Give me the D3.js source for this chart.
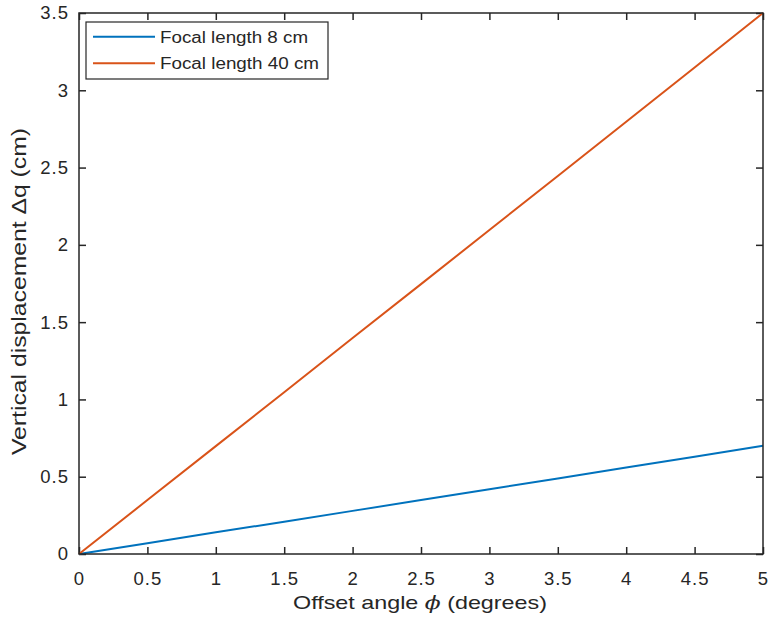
<!DOCTYPE html>
<html><head><meta charset="utf-8">
<script src="https://cdn.jsdelivr.net/npm/d3@7"></script>
<style>body{margin:0;background:#fff}text{font-family:"Liberation Sans",Arial,sans-serif;fill:#262626}</style>
</head><body>
<svg id="c" width="771" height="625"></svg>
<script>
const angles = [0,0.5,1,1.5,2,2.5,3,3.5,4,4.5,5];
const focal8 = [0,0.070,0.140,0.209,0.279,0.349,0.419,0.489,0.559,0.629,0.700];
const focal40 = [0,0.349,0.698,1.047,1.397,1.746,2.096,2.446,2.797,3.148,3.500];
const seriesNames = ["Focal length 8 cm","Focal length 40 cm"];
const seriesColors = ["#0072BD","#D95319"];
const xTicks = [0,0.5,1,1.5,2,2.5,3,3.5,4,4.5,5];
const yTicks = [0,0.5,1,1.5,2,2.5,3,3.5];

const svg = d3.select("#c");
const L=79,R=763,T=13,B=554;
const x = d3.scaleLinear().domain([0,5]).range([L,R]);
const y = d3.scaleLinear().domain([0,3.5]).range([B,T]);
const axCol="#262626";

const fmt = d=>String(d);
const gx = svg.append("g").attr("transform",`translate(0,${B})`)
  .call(d3.axisBottom(x).tickValues(xTicks).tickFormat(fmt).tickSizeInner(-7).tickSizeOuter(0).tickPadding(18));
const gxt = svg.append("g").attr("transform",`translate(0,${T})`)
  .call(d3.axisTop(x).tickValues(xTicks).tickFormat("").tickSizeInner(-7).tickSizeOuter(0));
const gy = svg.append("g").attr("transform",`translate(${L},0)`)
  .call(d3.axisLeft(y).tickValues(yTicks).tickFormat(fmt).tickSizeInner(-7).tickSizeOuter(0).tickPadding(10));
const gyr = svg.append("g").attr("transform",`translate(${R},0)`)
  .call(d3.axisRight(y).tickValues(yTicks).tickFormat("").tickSizeInner(-7).tickSizeOuter(0));
[gx,gxt,gy,gyr].forEach(g=>{
  g.select(".domain").remove();
  g.attr("font-size",null).attr("font-family",null);
  g.selectAll("line").attr("stroke",axCol).attr("stroke-width",1.5);
  g.selectAll("text").attr("font-size",18.5).attr("fill",axCol).attr("letter-spacing",1);
});

const data=[focal8,focal40];
const line = d3.line().x((d,i)=>x(angles[i])).y(d=>y(d));
data.forEach((s,k)=>{
  svg.append("path").datum(s).attr("d",line).attr("fill","none")
    .attr("stroke",seriesColors[k]).attr("stroke-width",2);
});

svg.append("rect").attr("x",L).attr("y",T).attr("width",R-L).attr("height",B-T)
  .attr("fill","none").attr("stroke",axCol).attr("stroke-width",1.5);

// axis labels
const xl = svg.append("text").attr("x",(293+547)/2).attr("y",609).attr("text-anchor","middle")
  .attr("font-size",19).attr("textLength",254).attr("lengthAdjust","spacingAndGlyphs");
xl.append("tspan").text("Offset angle ");
xl.append("tspan").attr("font-style","italic").attr("font-family","'DejaVu Serif',serif").text("ϕ");
xl.append("tspan").text(" (degrees)");
svg.append("text").attr("transform",`translate(26,${(128+455)/2}) rotate(-90)`).attr("text-anchor","middle")
  .attr("font-size",20).attr("textLength",327).attr("lengthAdjust","spacingAndGlyphs")
  .text("Vertical displacement Δq (cm)");

// legend
const lg = svg.append("g");
lg.append("rect").attr("x",86).attr("y",22).attr("width",242).attr("height",57)
  .attr("fill","#fff").attr("stroke",axCol).attr("stroke-width",1.2);
const legW=[148,159];
seriesNames.forEach((n,k)=>{
  const yy = 36.7 + k*26.5;
  lg.append("line").attr("x1",93).attr("x2",155).attr("y1",yy).attr("y2",yy)
    .attr("stroke",seriesColors[k]).attr("stroke-width",2);
  lg.append("text").attr("x",160).attr("y",yy+6).attr("font-size",16)
    .attr("textLength",legW[k]).attr("lengthAdjust","spacingAndGlyphs").text(n);
});
</script>
</body></html>
